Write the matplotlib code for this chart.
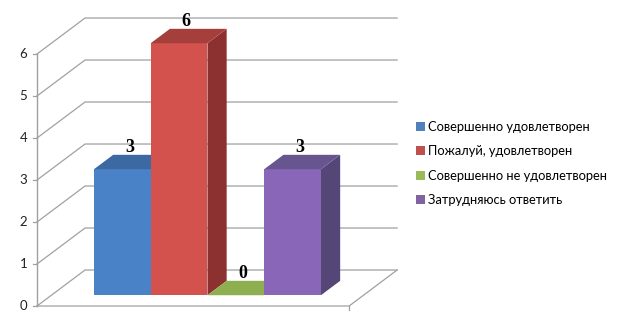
import matplotlib
matplotlib.use("Agg")
import matplotlib.pyplot as plt
from matplotlib.patches import Polygon, Rectangle

# ---- data ----
categories = ["Совершенно удовлетворен", "Пожалуй, удовлетворен",
              "Совершенно не удовлетворен", "Затрудняюсь ответить"]
values = [3, 6, 0, 3]
yticks = [0, 1, 2, 3, 4, 5, 6]

# ---- style ----
front_colors = ["#4A82C8", "#D4524E", "#8DAF4F", "#8A66B8"]
top_colors = ["#3D69A3", "#A53F3C", "#7C9A45", "#675590"]
side_colors = ["#33588A", "#8C3130", "#66803A", "#544676"]
legend_colors = ["#4F81BD", "#C0504D", "#9BBB59", "#8064A2"]
grid_col = "#A0A0A0"

# projection of depth (d in 0..1) onto the 2D axes
DX, DY = 0.846, 0.857
W = 5.5          # width of the floor box in category units
bar_d0, bar_d1 = 0.3, 0.7
bar_x0 = 0.75

def P(x, v, d):
    return (x + d * DX, v + d * DY)

fig = plt.figure(figsize=(6.18, 3.25), dpi=100)
ax = fig.add_axes([0, 0, 1, 1])
ax.set_xlim(-0.652, 10.238)
ax.set_ylim(-0.452, 7.286)
ax.axis("off")

# left wall diagonals + back wall gridlines
for t in yticks:
    a = P(0, t, 0); b = P(0, t, 1); c = P(W, t, 1)
    ax.plot([a[0], b[0], c[0]], [a[1], b[1], c[1]], color=grid_col, lw=0.9,
            solid_joinstyle="miter", zorder=1)
    ax.plot([a[0] - 0.07, a[0]], [a[1], a[1]], color=grid_col, lw=0.9, zorder=1)
    ax.text(a[0] - 0.17, a[1], str(t), ha="right", va="center",
            fontsize=9.5, family="Lato", color="#222222")
# vertical front axis
a = P(0, 0, 0); b = P(0, max(yticks), 0)
ax.plot([a[0], b[0]], [a[1], b[1]], color=grid_col, lw=1.0, zorder=1)
# floor front edge and right diagonal
c = P(W, 0, 0); e = P(W, 0, 1)
ax.plot([a[0], c[0], e[0]], [a[1], c[1], e[1]], color=grid_col, lw=0.9, zorder=1)
ax.plot([c[0], c[0]], [c[1], c[1] - 0.1], color=grid_col, lw=0.9, zorder=1)

# bars
for i, v in enumerate(values):
    x0 = bar_x0 + i
    x1 = x0 + 1
    z = 2 + i
    if v > 0:
        side = [P(x1, 0, bar_d0), P(x1, 0, bar_d1), P(x1, v, bar_d1), P(x1, v, bar_d0)]
        ax.add_patch(Polygon(side, closed=True, facecolor=side_colors[i],
                             edgecolor="none", zorder=z))
        front = [P(x0, 0, bar_d0), P(x1, 0, bar_d0), P(x1, v, bar_d0), P(x0, v, bar_d0)]
        ax.add_patch(Polygon(front, closed=True, facecolor=front_colors[i],
                             edgecolor="none", zorder=z))
        topc = top_colors[i]
    else:
        topc = front_colors[i]
    top = [P(x0, v, bar_d0), P(x1, v, bar_d0), P(x1, v, bar_d1), P(x0, v, bar_d1)]
    ax.add_patch(Polygon(top, closed=True, facecolor=topc,
                         edgecolor="none", zorder=z))
    cx = P(x0 + 0.5, v, 0.45)[0]
    cy = P(x0 + 0.5, v, bar_d1)[1]
    ax.annotate(str(v), (cx, cy), xytext=(0, 5), textcoords="offset points",
                ha="center", va="center", fontsize=13, fontweight="bold",
                family="Liberation Serif", color="black", zorder=10)

# legend
handles = [Rectangle((0, 0), 1, 1, facecolor=c, edgecolor="none") for c in legend_colors]
leg = fig.legend(handles, categories, loc="center left",
                 bbox_to_anchor=(0.665, 0.497), frameon=False,
                 prop={"family": "Lato", "size": 9.3},
                 handlelength=0.7, handleheight=0.7, handletextpad=0.25,
                 labelspacing=0.95, borderaxespad=0)

fig.savefig("out.png", dpi=100)
